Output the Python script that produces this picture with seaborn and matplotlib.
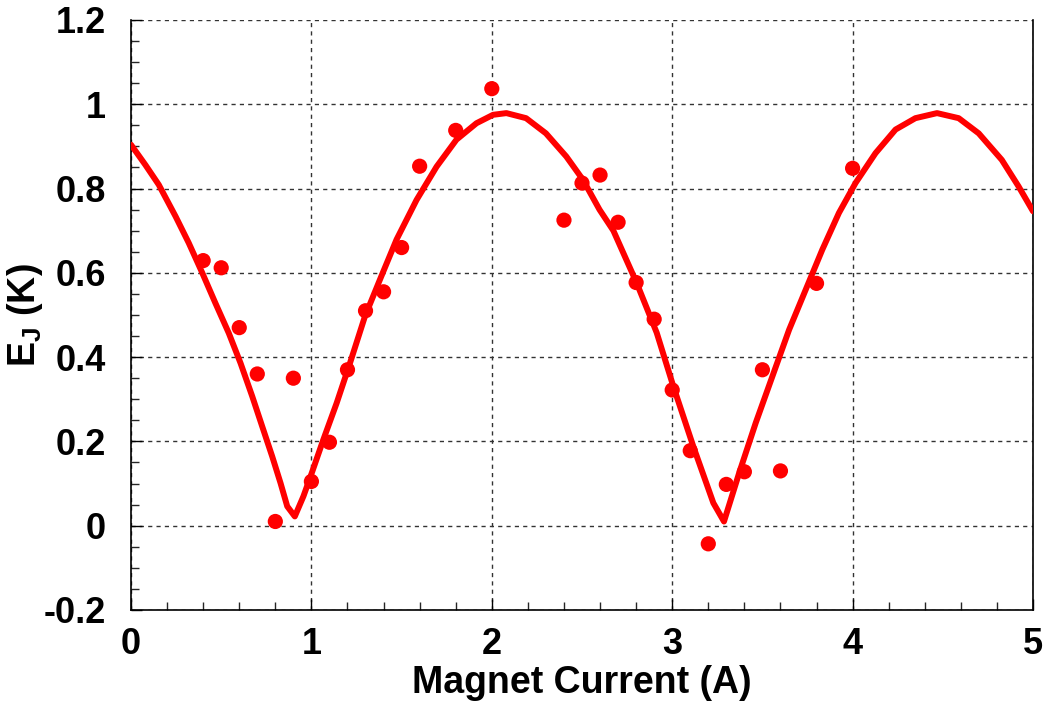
import numpy as np
import pandas as pd
import seaborn as sns
import matplotlib.pyplot as plt
from matplotlib.ticker import MultipleLocator, FixedLocator

# measured points
current = [0.4, 0.5, 0.6, 0.7, 0.8, 0.9, 1.0, 1.1, 1.2, 1.3, 1.4, 1.5, 1.6, 1.8,
           2.0, 2.4, 2.5, 2.6, 2.7, 2.8, 2.9, 3.0, 3.1, 3.2, 3.3, 3.4, 3.5, 3.6,
           3.8, 4.0]
ej = [0.629, 0.612, 0.47, 0.36, 0.01, 0.35, 0.105, 0.198, 0.37, 0.51, 0.555,
      0.66, 0.853, 0.938, 1.037, 0.725, 0.813, 0.832, 0.72, 0.577, 0.49, 0.322,
      0.178, -0.043, 0.098, 0.128, 0.37, 0.13, 0.575, 0.848]

# fit curve
fit_x = [0.000, 0.080, 0.154, 0.247, 0.320, 0.395, 0.468, 0.542, 0.607, 0.672,
         0.727, 0.783, 0.829, 0.866, 0.908, 0.956, 1.002, 1.066, 1.140, 1.214,
         1.297, 1.380, 1.472, 1.583, 1.694, 1.804, 1.915, 2.007, 2.081, 2.190,
         2.300, 2.413, 2.505, 2.597, 2.674, 2.803, 2.914, 3.006, 3.117, 3.228,
         3.287, 3.371, 3.463, 3.555, 3.648, 3.740, 3.832, 3.924, 4.016, 4.127,
         4.238, 4.348, 4.468, 4.588, 4.699, 4.827, 4.920, 5.000]
fit_y = [0.904, 0.856, 0.809, 0.734, 0.671, 0.600, 0.528, 0.457, 0.386, 0.307,
         0.236, 0.164, 0.101, 0.046, 0.022, 0.070, 0.125, 0.204, 0.291, 0.386,
         0.497, 0.584, 0.679, 0.773, 0.852, 0.916, 0.955, 0.975, 0.979, 0.967,
         0.931, 0.876, 0.821, 0.750, 0.700, 0.576, 0.458, 0.331, 0.188, 0.054,
         0.010, 0.125, 0.244, 0.354, 0.465, 0.560, 0.655, 0.742, 0.813, 0.884,
         0.940, 0.967, 0.979, 0.967, 0.931, 0.868, 0.805, 0.746]

yticks = [-0.2, 0, 0.2, 0.4, 0.6, 0.8, 1, 1.2]
ytick_labels = ['-0.2', '0', '0.2', '0.4', '0.6', '0.8', '1', '1.2']
xticks = [0, 1, 2, 3, 4, 5]

df_pts = pd.DataFrame({'current': current, 'ej': ej})
df_fit = pd.DataFrame({'current': fit_x, 'ej': fit_y})

sns.set_style('white')
plt.rcParams['font.family'] = ['Liberation Sans', 'DejaVu Sans']
plt.rcParams['font.weight'] = 'bold'
plt.rcParams['mathtext.fontset'] = 'custom'
plt.rcParams['mathtext.rm'] = 'Liberation Sans:bold'
plt.rcParams['mathtext.bf'] = 'Liberation Sans:bold'
plt.rcParams['mathtext.it'] = 'Liberation Sans:bold'

fig = plt.figure(figsize=(10.48, 7.06), dpi=100)
ax = fig.add_axes([0.125, 0.136, 0.8607, 0.8357])

sns.lineplot(data=df_fit, x='current', y='ej', ax=ax, color='#ff0000',
             linewidth=4.3, sort=False, estimator=None, zorder=3)
sns.scatterplot(data=df_pts, x='current', y='ej', ax=ax, color='#ff0000',
                s=120, edgecolor='none', zorder=4)

ax.set_xlim(0, 5)
ax.set_ylim(-0.2, 1.2)
ax.xaxis.set_major_locator(FixedLocator(xticks))
ax.xaxis.set_minor_locator(MultipleLocator(0.2))
ax.yaxis.set_major_locator(FixedLocator(yticks))
ax.yaxis.set_minor_locator(MultipleLocator(0.05))
ax.set_xticklabels([str(t) for t in xticks])
ax.set_yticklabels(ytick_labels)

ax.tick_params(axis='both', which='major', direction='in', length=8, width=1,
               labelsize=26, colors='black', bottom=True, left=True)
ax.tick_params(axis='x', which='major', pad=12)
ax.tick_params(axis='y', which='major', pad=18)
ax.tick_params(axis='both', which='minor', direction='in', length=6, width=1,
               bottom=True, left=True)

ax.grid(True, which='major', linestyle=(0, (3, 3)), color='#333333', linewidth=1)

for side in ['left', 'bottom', 'right']:
    ax.spines[side].set_color('black')
    ax.spines[side].set_linewidth(1.2)
ax.spines['top'].set_visible(False)

ax.set_xlabel('Magnet Current (A)', fontsize=27, fontweight='bold', color='black')
ax.set_ylabel(r'E$_\mathregular{J}$ (K)', fontsize=27, fontweight='bold', color='black')
ax.xaxis.set_label_coords(0.5, -0.093)
ax.yaxis.set_label_coords(-0.095, 0.5)

fig.savefig('out.png', dpi=100)
